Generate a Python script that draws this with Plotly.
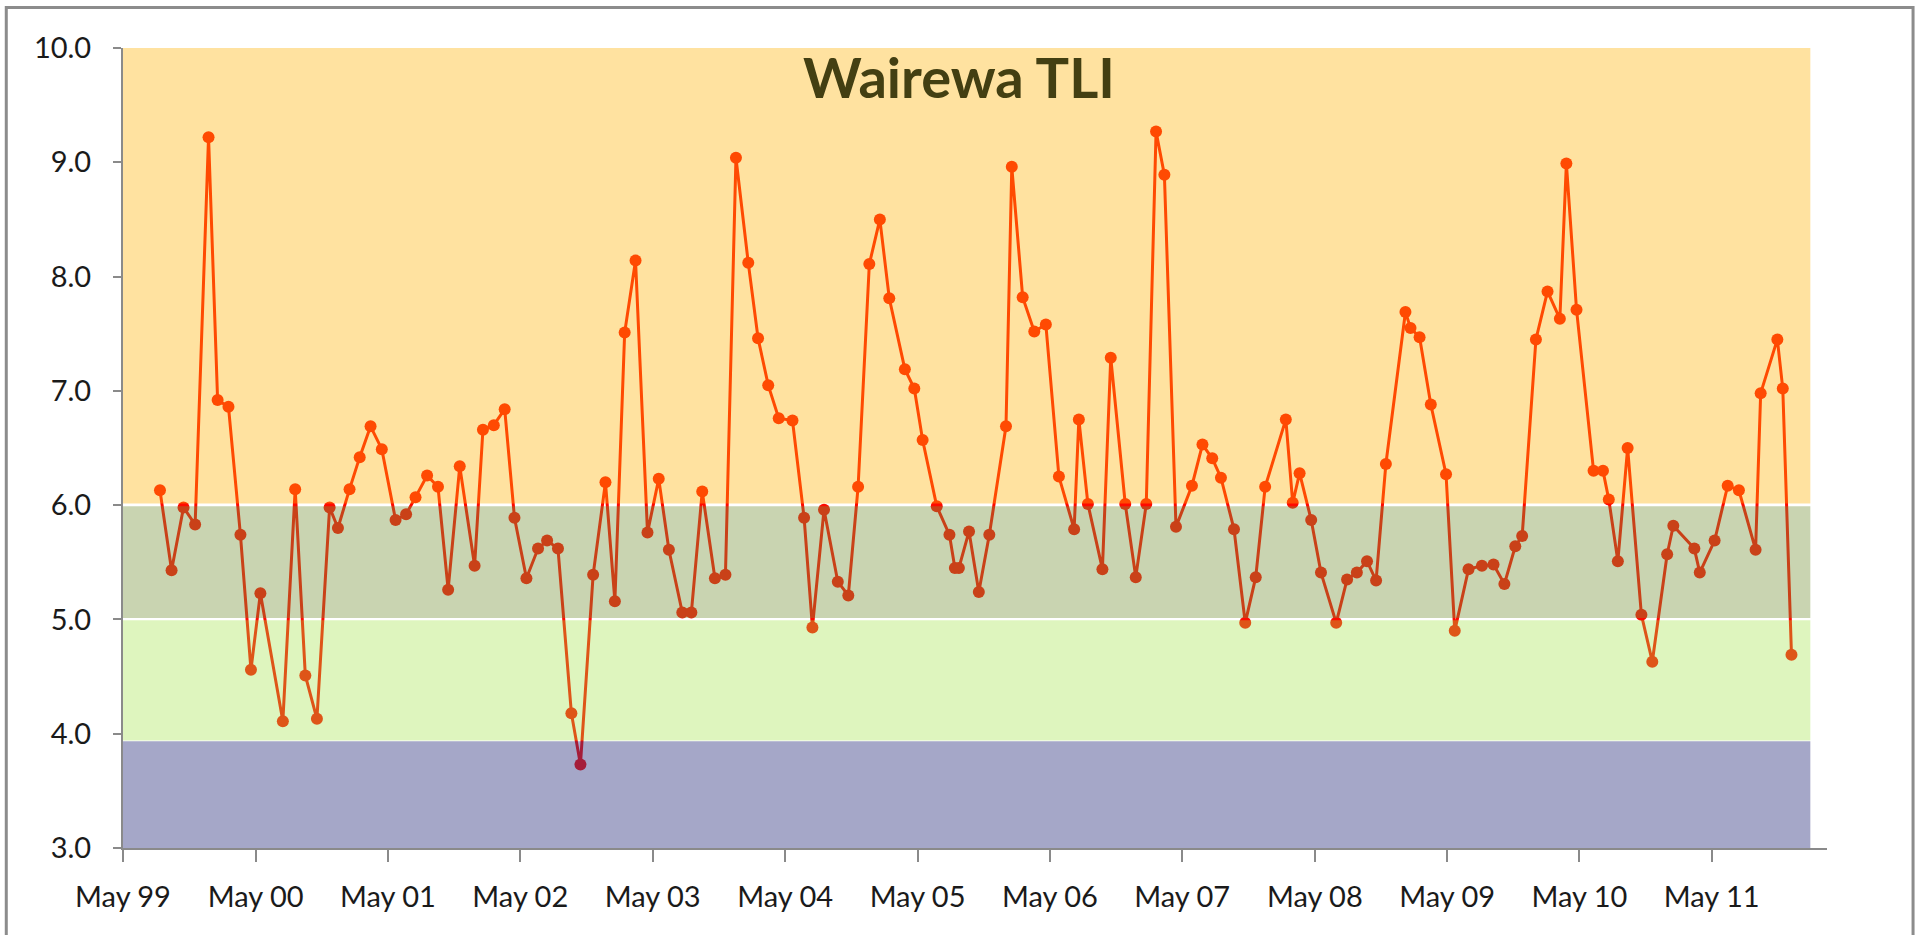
import plotly.graph_objects as go

# ---- data ----
dates = [
    "1999-08-11", "1999-09-12", "1999-10-15", "1999-11-16", "1999-12-23",
    "2000-01-17", "2000-02-16", "2000-03-20", "2000-04-18", "2000-05-14", "2000-07-15",
    "2000-08-18", "2000-09-15", "2000-10-17", "2000-11-21", "2000-12-14",
    "2001-01-15", "2001-02-12", "2001-03-14", "2001-04-14", "2001-05-22", "2001-06-20",
    "2001-07-16", "2001-08-17", "2001-09-16", "2001-10-14", "2001-11-15", "2001-12-26",
    "2002-01-18", "2002-02-17", "2002-03-19", "2002-04-15", "2002-05-18", "2002-06-19",
    "2002-07-14", "2002-08-13", "2002-09-19", "2002-10-14", "2002-11-18", "2002-12-22",
    "2003-01-17", "2003-02-13", "2003-03-15", "2003-04-17", "2003-05-18", "2003-06-15",
    "2003-07-22", "2003-08-16", "2003-09-15", "2003-10-20", "2003-11-18", "2003-12-17",
    "2004-01-20", "2004-02-16", "2004-03-15", "2004-04-13", "2004-05-21", "2004-06-22",
    "2004-07-15", "2004-08-16", "2004-09-23", "2004-10-22", "2004-11-18", "2004-12-19",
    "2005-01-17", "2005-02-12", "2005-03-27", "2005-04-22", "2005-05-15", "2005-06-23",
    "2005-07-28", "2005-08-12", "2005-08-23", "2005-09-20", "2005-10-17", "2005-11-15",
    "2005-12-31",
    "2006-01-16", "2006-02-15", "2006-03-19", "2006-04-20", "2006-05-26", "2006-07-07",
    "2006-07-20", "2006-08-14", "2006-09-23", "2006-10-16", "2006-11-25", "2006-12-24",
    "2007-01-22", "2007-02-18", "2007-03-13", "2007-04-14", "2007-05-28", "2007-06-26",
    "2007-07-23", "2007-08-16", "2007-09-21", "2007-10-22", "2007-11-20", "2007-12-16",
    "2008-02-11", "2008-03-01", "2008-03-20", "2008-04-21", "2008-05-18", "2008-06-29",
    "2008-07-29", "2008-08-25", "2008-09-22", "2008-10-17", "2008-11-13",
    "2009-01-06", "2009-01-20", "2009-02-14", "2009-03-17", "2009-04-28", "2009-05-22",
    "2009-06-29", "2009-08-05", "2009-09-06", "2009-10-06", "2009-11-05", "2009-11-24",
    "2010-01-01", "2010-02-02", "2010-03-08", "2010-03-26", "2010-04-23", "2010-06-09",
    "2010-07-05", "2010-07-21", "2010-08-15", "2010-09-11", "2010-10-19", "2010-11-18",
    "2010-12-29",
    "2011-01-15", "2011-03-14", "2011-03-29", "2011-05-09", "2011-06-14", "2011-07-15",
    "2011-08-30", "2011-09-13", "2011-10-29", "2011-11-13", "2011-12-07",
]
tli = [
    6.13, 5.43, 5.98, 5.83, 9.22,
    6.92, 6.86, 5.74, 4.56, 5.23, 4.11, 6.14, 4.51, 4.13, 5.98, 5.80,
    6.14, 6.42, 6.69, 6.49, 5.87, 5.92, 6.07, 6.26, 6.16, 5.26, 6.34, 5.47,
    6.66, 6.70, 6.84, 5.89, 5.36, 5.62, 5.69, 5.62, 4.18, 3.73, 5.39, 6.20,
    5.16, 7.51, 8.14, 5.76, 6.23, 5.61, 5.06, 5.06, 6.12, 5.36, 5.39, 9.04,
    8.12, 7.46, 7.05, 6.76, 6.74, 5.89, 4.93, 5.96, 5.33, 5.21, 6.16, 8.11,
    8.50, 7.81, 7.19, 7.02, 6.57, 5.99, 5.74, 5.45, 5.45, 5.77, 5.24, 5.74, 6.69,
    8.96, 7.82, 7.52, 7.58, 6.25, 5.79, 6.75, 6.01, 5.44, 7.29, 6.01, 5.37,
    6.01, 9.27, 8.89, 5.81, 6.17, 6.53, 6.41, 6.24, 5.79, 4.97, 5.37, 6.16,
    6.75, 6.02, 6.28, 5.87, 5.41, 4.97, 5.35, 5.41, 5.51, 5.34, 6.36,
    7.69, 7.55, 7.47, 6.88, 6.27, 4.90, 5.44, 5.47, 5.48, 5.31, 5.64, 5.73,
    7.45, 7.87, 7.63, 8.99, 7.71, 6.30, 6.30, 6.05, 5.51, 6.50, 5.04, 4.63, 5.57,
    5.82, 5.62, 5.41, 5.69, 6.17, 6.13, 5.61, 6.98, 7.45, 7.02, 4.69,
]

tick_dates = ["1999-05-01", "2000-05-01", "2001-05-01", "2002-05-01", "2003-05-01",
              "2004-05-01", "2005-05-01", "2006-05-01", "2007-05-01", "2008-05-01",
              "2009-05-01", "2010-05-01", "2011-05-01"]
tick_labels = ["May 99", "May 00", "May 01", "May 02", "May 03", "May 04", "May 05",
               "May 06", "May 07", "May 08", "May 09", "May 10", "May 11"]
y_ticks = [3, 4, 5, 6, 7, 8, 9, 10]

# trophic bands (lower, upper TLI)
band_lower = [6.015, 5.012, 3.94, 3.0]
band_upper = [10.0, 5.99, 4.992, 3.935]
band_colors = ["rgba(255,179,5,0.38)", "rgba(120,147,60,0.40)",
               "rgba(160,226,69,0.35)", "rgba(50,55,130,0.44)"]
band_end = "2012-01-28"
x_start, x_end = "1999-05-01", "2012-03-14"

fig = go.Figure()
fig.add_trace(go.Scatter(
    x=dates, y=tli, mode="lines+markers",
    line=dict(color="#FF0A00", width=3),
    marker=dict(color="#FF0A00", size=12),
    hoverinfo="x+y", showlegend=False,
))

for lo, hi, col in zip(band_lower, band_upper, band_colors):
    fig.add_shape(type="rect", xref="x", yref="y", x0=x_start, x1=band_end,
                  y0=lo, y1=hi, fillcolor=col, line=dict(width=0), layer="above")

# outer chart border
fig.add_shape(type="rect", xref="paper", yref="paper",
              x0=-0.0685, x1=1.0505, y0=-0.115, y1=1.0505,
              line=dict(color="#8C8C8C", width=3), fillcolor="rgba(0,0,0,0)")

fig.add_annotation(text="<b>Wairewa TLI</b>", xref="paper", yref="paper",
                   x=0.4906, y=0.965, xanchor="center", yanchor="middle",
                   showarrow=False,
                   font=dict(family="Lato", size=56, color="#433F12"))

axis_font = dict(family="Lato", size=29, color="#1A1A1A")
fig.update_layout(
    width=1916, height=935,
    margin=dict(l=123, r=89, t=48, b=87),
    paper_bgcolor="white", plot_bgcolor="white",
    font=dict(family="Lato"),
    xaxis=dict(type="date", range=[x_start, x_end], tickvals=tick_dates,
               ticktext=tick_labels, showgrid=False, zeroline=False,
               showline=True, linecolor="#8A8A8A", linewidth=2,
               ticks="outside", ticklen=12, tickwidth=2, tickcolor="#8A8A8A",
               tickfont=axis_font, ticklabelstandoff=10),
    yaxis=dict(range=[3, 10], tickvals=y_ticks, tickformat=".1f",
               showgrid=False, zeroline=False, showline=True,
               linecolor="#8A8A8A", linewidth=2, ticks="outside", ticklen=8,
               tickwidth=2, tickcolor="#8A8A8A", tickfont=axis_font,
               ticklabelstandoff=16),
)

fig.write_html("out.html", config={"displayModeBar": False},
               post_script="document.body.style.margin='0px';")
